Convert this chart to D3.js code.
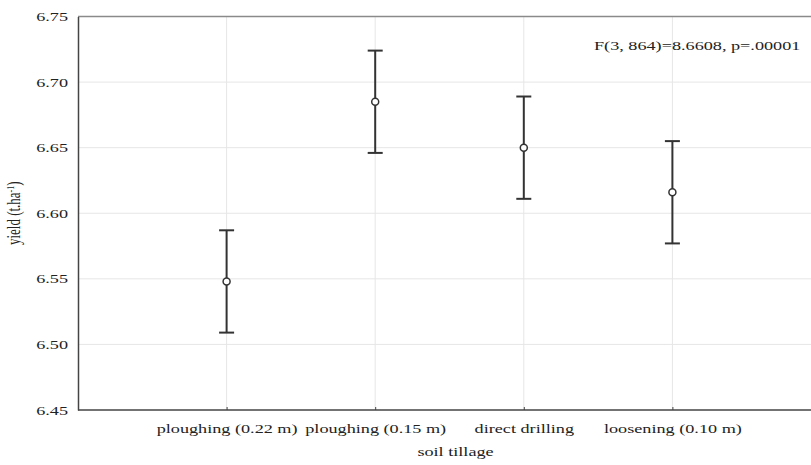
<!DOCTYPE html>
<html>
<head>
<meta charset="utf-8">
<script src="https://cdn.jsdelivr.net/npm/d3@7"></script>
<style>
  body { margin: 0; background: #fff; }
  text { font-family: "Liberation Serif", "Times New Roman", serif; fill: #222; }
</style>
</head>
<body>
<svg id="chart" width="811" height="465"></svg>
<script>
// data
const categories = ["ploughing (0.22 m)", "ploughing (0.15 m)", "direct drilling", "loosening (0.10 m)"];
const means = [6.548, 6.685, 6.650, 6.616];
const lower = [6.509, 6.646, 6.611, 6.577];
const upper = [6.587, 6.724, 6.689, 6.655];
const yTicks = [6.45, 6.50, 6.55, 6.60, 6.65, 6.70, 6.75];

// the picture is stretched sideways, so text gets the same stretch
const sx = 1.4;

const plotLeft = 78, plotRight = 821, plotTop = 16.5, plotBottom = 410;
const svg = d3.select("#chart");

const x = d3.scalePoint().domain(categories).range([plotLeft, plotRight]).padding(1);
const y = d3.scaleLinear().domain([6.45, 6.75]).range([plotBottom, plotTop]);

// grid
svg.append("g")
  .selectAll("line")
  .data(yTicks.slice(1, -1))
  .enter().append("line")
  .attr("x1", plotLeft).attr("x2", 811)
  .attr("y1", d => y(d)).attr("y2", d => y(d))
  .style("stroke", "#e6e6e6");

svg.append("g")
  .selectAll("line")
  .data(categories)
  .enter().append("line")
  .attr("x1", d => x(d)).attr("x2", d => x(d))
  .attr("y1", plotTop).attr("y2", plotBottom)
  .style("stroke", "#e6e6e6");

// top border
svg.append("line")
  .attr("x1", plotLeft).attr("x2", 811)
  .attr("y1", plotTop).attr("y2", plotTop)
  .style("stroke", "#8a8a8a").style("stroke-width", 1.5);

// axes
let yAxis = svg.append("g")
  .attr("transform", "translate(" + plotLeft + ",0)")
  .call(d3.axisLeft(y).tickValues(yTicks).tickFormat(d3.format(".2f")).tickSize(0).tickPadding(10));

let xAxis = svg.append("g")
  .attr("transform", "translate(0," + plotBottom + ")")
  .call(d3.axisBottom(x).tickSizeInner(-3).tickSizeOuter(0).tickPadding(14));

[yAxis, xAxis].forEach(ax => {
  ax.select(".domain").style("stroke", "#444").style("stroke-width", 1.5);
  ax.selectAll(".tick line").style("stroke", "#444");
  ax.selectAll("text")
    .style("font-size", "13px")
    .style("font-family", "Liberation Serif, serif")
    .style("fill", "#222");
});
xAxis.select(".domain").attr("d", "M" + plotLeft + ",0H811");

// stretch tick labels sideways
yAxis.selectAll(".tick text")
  .attr("x", -10 / sx)
  .attr("transform", "scale(" + sx + ",1)");
xAxis.selectAll(".tick text")
  .attr("transform", "scale(" + sx + ",1)");

// error bars
const rows = categories.map((c, i) => ({ c: c, m: means[i], lo: lower[i], hi: upper[i] }));
const bars = svg.append("g").selectAll("g").data(rows).enter().append("g");

bars.append("line")
  .attr("x1", d => x(d.c)).attr("x2", d => x(d.c))
  .attr("y1", d => y(d.hi)).attr("y2", d => y(d.lo))
  .style("stroke", "#333").style("stroke-width", 2);

bars.selectAll(".cap")
  .data(d => [[d.c, d.hi], [d.c, d.lo]])
  .enter().append("line")
  .attr("class", "cap")
  .attr("x1", d => x(d[0]) - 7.5).attr("x2", d => x(d[0]) + 7.5)
  .attr("y1", d => y(d[1])).attr("y2", d => y(d[1]))
  .style("stroke", "#333").style("stroke-width", 2);

bars.append("circle")
  .attr("cx", d => x(d.c)).attr("cy", d => y(d.m))
  .attr("r", 3.5)
  .style("fill", "#fff").style("stroke", "#333").style("stroke-width", 1.5);

// labels
function stretchedText(px, py, str, anchor) {
  return svg.append("text")
    .attr("transform", "translate(" + px + "," + py + ") scale(" + sx + ",1)")
    .attr("text-anchor", anchor)
    .style("font-size", "13px")
    .text(str);
}

stretchedText(594, 50, "F(3, 864)=8.6608, p=.00001", "start");
stretchedText((plotLeft + plotRight) / 2 + 6, 456, "soil tillage", "middle");

let yl = svg.append("text")
  .attr("transform", "translate(20," + ((plotTop + plotBottom) / 2) + ") rotate(-90) scale(1," + sx + ")")
  .attr("text-anchor", "middle")
  .style("font-size", "13px");
yl.append("tspan").text("yield (t.ha");
yl.append("tspan").attr("dy", -4).style("font-size", "8px").text("-1");
yl.append("tspan").attr("dy", 4).text(")");
</script>
</body>
</html>
